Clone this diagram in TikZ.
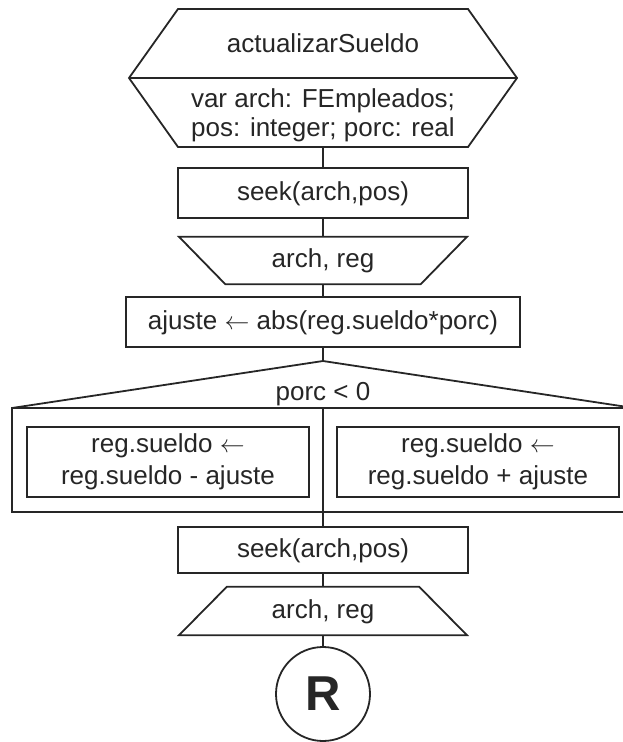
\documentclass[tikz,border=0pt]{standalone}
\usepackage{fontspec}
\setmainfont{Liberation Sans}
\usetikzlibrary{calc}
\definecolor{ink}{HTML}{262626}
\begin{document}
\begin{tikzpicture}[x=1pt,y=-1pt,
  every node/.style={font=\fontsize{26}{30}\selectfont, text=ink},
  line/.style={draw=ink, line width=1.8pt},
  stepbox/.style={line, rectangle, inner sep=0pt, text height=19pt, text depth=5pt},
  label/.style={inner sep=0pt, text height=19pt, text depth=5pt},
  twoline/.style={line, rectangle, inner sep=0pt, align=center,
    font=\fontsize{26}{31.5}\selectfont},
  readbox/.style={rectangle, inner sep=0pt, text height=19pt, text depth=5pt},
  endmark/.style={line, circle, inner sep=0pt, minimum size=94pt,
    font=\fontsize{49}{49}\selectfont\bfseries}
]
\useasboundingbox (0,0) rectangle (623,742);

% procedure header
\draw[line, line join=miter] (178,9) -- (468,9) -- (517,78) -- (468,147) -- (178,147) -- (129,78) -- cycle;
\draw[line] (129,78) -- (517,78);
\node[label] (title) at (323,45.5) {actualizarSueldo};
\node[inner sep=0pt, align=center, font=\fontsize{26}{29}\selectfont] (vars) at (323,115.5)
  {var arch: FEmpleados;\\pos: integer; porc: real};
\coordinate (hexbot) at (323,147);

% sequence of steps
\node[stepbox, minimum width=290pt, minimum height=50pt] (seekA) at (323,193) {seek(arch,pos)};
% read: wide top, narrow bottom
\node[readbox, minimum width=195pt, minimum height=47pt] (readA) at (323,260.5) {arch, reg};
\draw[line, line join=miter] ($(readA.north)+(-144,0)$) -- ($(readA.north)+(144,0)$)
  -- (readA.south east) -- (readA.south west) -- cycle;
\node[stepbox, minimum width=394pt, minimum height=50pt] (calc) at (323,322) {ajuste $\leftarrow$ abs(reg.sueldo*porc)};

% selection
\coordinate (apex) at (323,361);
\coordinate (dtop) at (323,408);
\coordinate (dbot) at (323,512);
\draw[line] (12,408) -- (apex) -- (634,408);
\draw[line] (12,408) rectangle (634,512);
\node[label] (cond) at (323,393) {porc < 0};
\node[twoline, minimum width=282pt, minimum height=70pt] (thenbox) at (168,462)
  {reg.sueldo $\leftarrow$\\reg.sueldo - ajuste};
\node[twoline, minimum width=282pt, minimum height=70pt] (elsebox) at (478,462)
  {reg.sueldo $\leftarrow$\\reg.sueldo + ajuste};

\node[stepbox, minimum width=290pt, minimum height=46pt] (seekB) at (323,550) {seek(arch,pos)};
% read: narrow top, wide bottom
\node[readbox, minimum width=192pt, minimum height=48pt] (readB) at (323,611) {arch, reg};
\draw[line, line join=miter] (readB.north west) -- (readB.north east)
  -- ($(readB.south)+(144,0)$) -- ($(readB.south)+(-144,0)$) -- cycle;
\node[endmark] (ret) at (323,694) {R};

% connectors
\draw[line] (hexbot) -- (seekA.north);
\draw[line] (seekA.south) -- (readA.north);
\draw[line] (readA.south) -- (calc.north);
\draw[line] (calc.south) -- (apex);
\draw[line] (dtop) -- (seekB.north);
\draw[line] (seekB.south) -- (readB.north);
\draw[line] (readB.south) -- (ret.north);
\end{tikzpicture}
\end{document}
